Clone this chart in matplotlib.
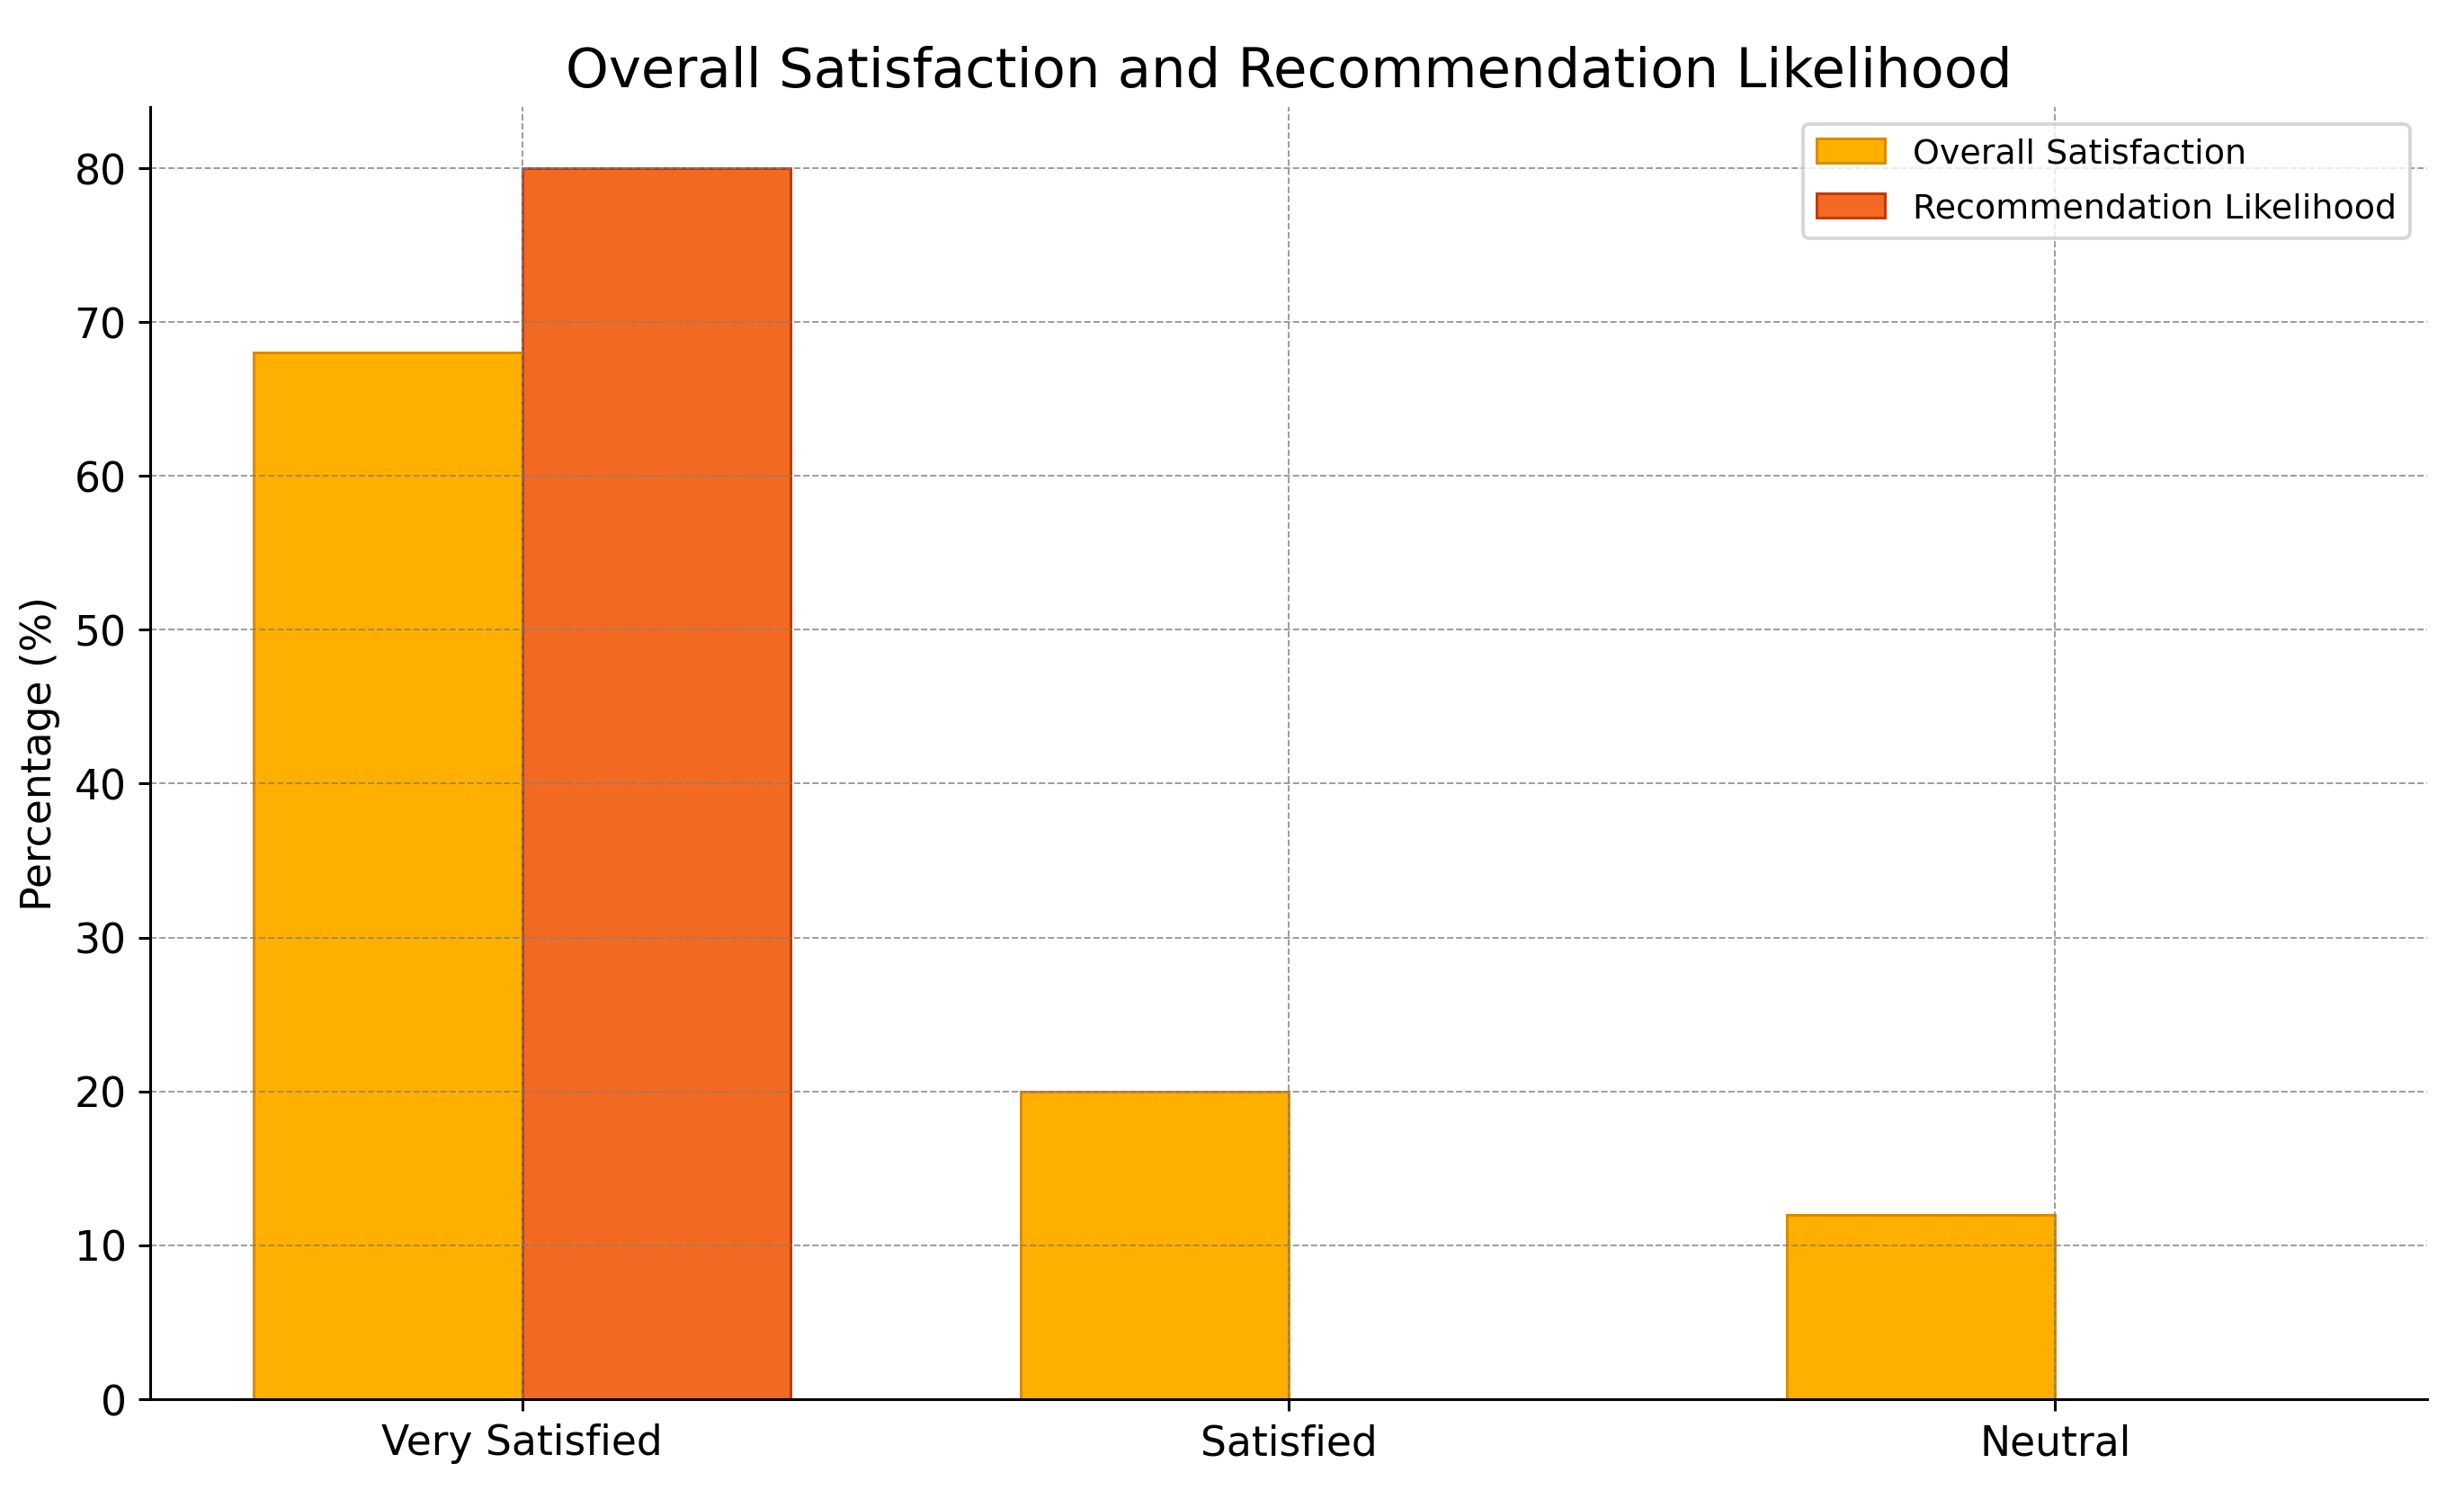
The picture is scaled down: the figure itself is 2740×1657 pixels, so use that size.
import matplotlib
matplotlib.use("Agg")
import matplotlib.pyplot as plt
import numpy as np

# survey results (percent)
categories = ['Very Satisfied', 'Satisfied', 'Neutral']
overall_satisfaction = [68, 20, 12]
recommendation_likelihood = [80, 0, 0]

x = np.arange(len(categories))
width = 0.35

fig, ax = plt.subplots(figsize=(10, 6.05), dpi=274)
fig.subplots_adjust(left=0.061, right=0.985, top=0.928, bottom=0.061)

ax.bar(x - width / 2, overall_satisfaction, width, label='Overall Satisfaction',
       color='#FFAF00', edgecolor='#D98C00', linewidth=0.8)
ax.bar(x + width / 2, recommendation_likelihood, width, label='Recommendation Likelihood',
       color='#F26A22', edgecolor='#C43A0A', linewidth=0.8)

ax.set_title('Overall Satisfaction and Recommendation Likelihood', fontsize=16)
ax.set_ylabel('Percentage (%)', fontsize=12)
ax.set_xticks(x)
ax.set_xticklabels(categories, fontsize=12)
ax.tick_params(axis='y', labelsize=12)
ax.set_yticks(np.arange(0, 81, 10))

ax.grid(True, linestyle='--', linewidth=0.5, color='gray', alpha=0.8)
ax.spines['top'].set_visible(False)
ax.spines['right'].set_visible(False)

ax.legend(fontsize=10, loc='upper right', labelspacing=0.65)

plt.savefig('out.png')
